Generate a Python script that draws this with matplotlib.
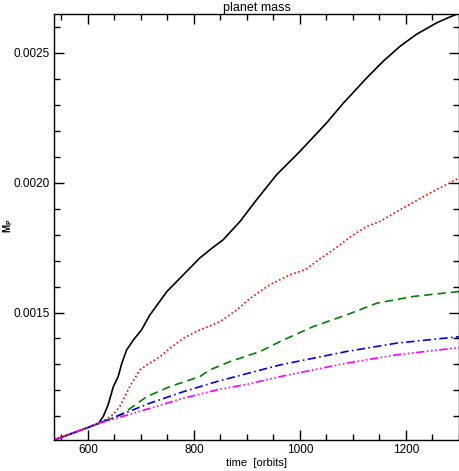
import matplotlib
matplotlib.use("Agg")
import matplotlib.pyplot as plt
from matplotlib.ticker import MultipleLocator, FormatStrFormatter

# time [orbits] and planet mass for each run
t_black = [536, 560, 580, 600, 620, 629, 638, 648, 657, 664, 673, 686, 701, 717, 749, 774, 811, 834, 855, 887, 918, 956, 1000, 1050, 1082, 1126, 1157, 1189, 1220, 1258, 1280, 1299]
m_black = [0.001009, 0.001027, 0.001042, 0.001057, 0.001073, 0.0011, 0.001144, 0.001215, 0.001253, 0.001305, 0.001356, 0.001395, 0.001433, 0.001491, 0.001581, 0.001633, 0.00171, 0.001748, 0.00178, 0.001851, 0.001934, 0.002031, 0.002121, 0.00223, 0.002307, 0.002404, 0.002468, 0.002526, 0.002572, 0.002616, 0.002636, 0.002652]

t_red = [536, 560, 580, 600, 620, 634, 648, 660, 679, 698, 711, 736, 755, 780, 811, 830, 849, 881, 906, 943, 981, 1010, 1040, 1063, 1101, 1126, 1151, 1189, 1245, 1300]
m_red = [0.001009, 0.001027, 0.001042, 0.001057, 0.001073, 0.001088, 0.001108, 0.001138, 0.001215, 0.001279, 0.001298, 0.00133, 0.001363, 0.001401, 0.001433, 0.001448, 0.001465, 0.00151, 0.001555, 0.001607, 0.001645, 0.001665, 0.00171, 0.001742, 0.0018, 0.001832, 0.001851, 0.001896, 0.00196, 0.002018]

t_green = [536, 560, 580, 600, 620, 645, 667, 711, 755, 774, 811, 830, 868, 925, 962, 1025, 1088, 1145, 1214, 1300]
m_green = [0.001009, 0.001027, 0.001042, 0.001057, 0.001073, 0.001092, 0.001112, 0.001176, 0.001215, 0.001228, 0.001253, 0.001279, 0.001311, 0.00135, 0.001388, 0.001446, 0.001491, 0.001536, 0.001562, 0.001581]

t_blue = [536, 560, 580, 600, 620, 654, 717, 780, 843, 906, 962, 1088, 1182, 1300]
m_blue = [0.001009, 0.001027, 0.001042, 0.001057, 0.001073, 0.0011, 0.001151, 0.001195, 0.001234, 0.001268, 0.001298, 0.00135, 0.001382, 0.001407]

t_mag = [536, 560, 580, 600, 620, 654, 717, 780, 843, 906, 962, 1088, 1182, 1300]
m_mag = [0.001009, 0.001027, 0.001042, 0.001057, 0.001073, 0.001093, 0.001131, 0.00117, 0.001202, 0.001226, 0.001253, 0.001305, 0.001337, 0.001365]

plt.rcParams['font.family'] = ['Liberation Sans', 'DejaVu Sans']

fig = plt.figure(figsize=(4.6, 4.71), dpi=100)
ax = fig.add_axes([54/460, 1 - 440/471, (459-54)/460, (440-14)/471])

lw = 1.2
ax.plot(t_black, m_black, color='black', lw=lw, ls='-')
ax.plot(t_red, m_red, color='red', lw=lw, ls=(0, (1, 1.5)))
ax.plot(t_green, m_green, color='green', lw=lw, ls=(0, (5, 3)))
ax.plot(t_blue, m_blue, color='blue', lw=lw, ls=(0, (5, 2, 1, 2)))
ax.plot(t_mag, m_mag, color='magenta', lw=lw, ls=(0, (5, 1.5, 1, 1.5, 1, 1.5, 1, 1.5)))

ax.set_xlim(536, 1300)
ax.set_ylim(0.001009, 0.00265)
ax.xaxis.set_major_locator(MultipleLocator(200))
ax.xaxis.set_minor_locator(MultipleLocator(50))
ax.yaxis.set_major_locator(MultipleLocator(0.0005))
ax.yaxis.set_minor_locator(MultipleLocator(0.0001))
ax.yaxis.set_major_formatter(FormatStrFormatter('%.4f'))
ax.tick_params(which='both', direction='in', top=True, right=True, labelsize=8.5, width=1)
ax.tick_params(which='major', length=7, pad=3)
ax.tick_params(which='minor', length=4)
for s in ax.spines.values():
    s.set_linewidth(1)

ax.set_title('planet mass', fontsize=9, pad=2)
ax.set_xlabel('time  [orbits]', fontsize=8, labelpad=1)
fig.text(8/460, 1 - 226/471, r'M$_\mathregular{P}$', rotation=90, fontsize=7,
         fontweight='bold', ha='center', va='center')

fig.savefig('out.png', dpi=100)
